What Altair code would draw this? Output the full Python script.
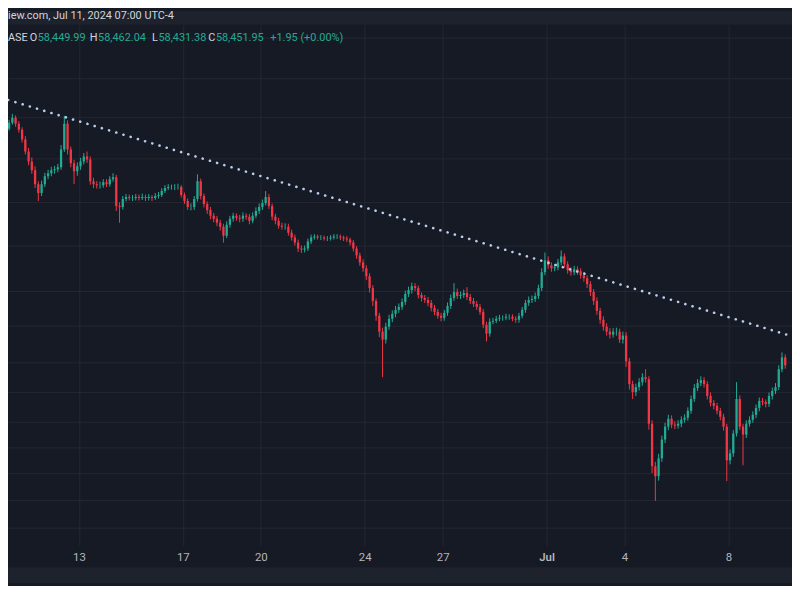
import altair as alt
import pandas as pd

# ---------------- data (3-hour candles from 2024-06-10 00:00 UTC) ----------------
FIRST_OPEN = 69200
CLOSE = [
    69300, 69420, 69660, 69860, 69620, 69380, 68980, 68500,
    68100, 67740, 67180, 66820, 67180, 67500, 67620, 67740,
    67780, 67860, 68580, 69620, 68580, 68020, 67700, 67900,
    68100, 68300, 68180, 67300, 67180, 67140, 67140, 67260,
    67180, 67380, 67460, 66300, 66260, 66580, 66660, 66620,
    66620, 66660, 66620, 66660, 66620, 66660, 66620, 66700,
    66740, 66900, 67020, 67060, 67060, 67060, 67060, 66740,
    66500, 66260, 66260, 66580, 67300, 66700, 66380, 66140,
    65900, 65780, 65620, 65460, 65100, 65540, 65780, 65900,
    65820, 65780, 65900, 65860, 65700, 65900, 66100, 66260,
    66420, 66660, 66300, 65860, 65700, 65500, 65460, 65460,
    65220, 65020, 64820, 64580, 64540, 64580, 64860, 65020,
    65060, 65020, 65020, 64980, 64980, 65020, 65060, 65060,
    65020, 64980, 64940, 64820, 64580, 64300, 64020, 63780,
    63460, 62980, 62460, 61860, 61220, 60900, 61420, 61740,
    61940, 62100, 62220, 62420, 62740, 62900, 63060, 62980,
    62700, 62580, 62500, 62380, 62180, 62020, 61860, 61780,
    61980, 62260, 62580, 62820, 62660, 62700, 62780, 62620,
    62460, 62340, 62220, 62020, 61500, 61140, 61620, 61660,
    61740, 61780, 61780, 61820, 61820, 61740, 61700, 61860,
    62100, 62380, 62500, 62540, 62660, 62980, 63620, 64100,
    63900, 63780, 63820, 64020, 64260, 63940, 63700, 63620,
    63740, 63660, 63500, 63380, 63140, 62820, 62460, 62060,
    61700, 61420, 61220, 61100, 61220, 61220, 60900, 61060,
    60020, 59100, 58780, 58980, 59180, 59380, 59300, 57500,
    55780, 55380, 56100, 56860, 57380, 57700, 57460, 57420,
    57500, 57660, 57740, 58020, 58500, 58940, 59140, 59260,
    59100, 58620, 58340, 58220, 58020, 57780, 57380, 56020,
    56300, 57100, 58500, 57380, 57060, 57500, 57660, 57860,
    58140, 58420, 58380, 58300, 58620, 58820, 58980, 59700,
    60180, 59860,
]
HIGH = [
    69420, 69540, 69780, 70020, 69960, 69720, 69480, 69120,
    68640, 68260, 67900, 67300, 67320, 67640, 67760, 67880,
    67920, 68000, 68760, 69940, 69760, 68700, 68160, 68060,
    68240, 68440, 68500, 68300, 67440, 67300, 67280, 67380,
    67380, 67500, 67620, 67560, 66440, 66700, 66780, 66760,
    66740, 66780, 66760, 66800, 66760, 66780, 66740, 66820,
    66860, 67020, 67140, 67180, 67160, 67180, 67200, 67140,
    66840, 66600, 66400, 66700, 67580, 67400, 66800, 66480,
    66260, 66020, 65900, 65740, 65580, 65680, 65900, 66020,
    66000, 65940, 66040, 66000, 65980, 66040, 66240, 66400,
    66560, 66900, 66780, 66400, 65980, 65820, 65620, 65600,
    65580, 65340, 65140, 64940, 64700, 64700, 64980, 65140,
    65160, 65140, 65120, 65100, 65080, 65120, 65160, 65160,
    65140, 65100, 65080, 65020, 64920, 64680, 64420, 64140,
    63900, 63580, 63100, 62560, 61980, 61380, 61580, 61900,
    62080, 62260, 62360, 62560, 62880, 63040, 63200, 63180,
    63080, 62800, 62700, 62620, 62500, 62300, 62140, 61980,
    62100, 62400, 62720, 63180, 62960, 62840, 62920, 63020,
    62740, 62580, 62460, 62340, 62140, 61620, 61760, 61780,
    61860, 61900, 61880, 61940, 61920, 61920, 61840, 61980,
    62220, 62500, 62640, 62680, 62800, 63120, 63780, 64420,
    64260, 64020, 63960, 64160, 64500, 64380, 64060, 63820,
    63880, 63860, 63780, 63620, 63500, 63260, 62940, 62600,
    62180, 61840, 61560, 61360, 61360, 61380, 61340, 61220,
    61200, 60160, 59240, 59120, 59340, 59540, 59700, 59420,
    57640, 55960, 56280, 57020, 57540, 57860, 57840, 57600,
    57640, 57800, 57880, 58160, 58640, 59100, 59300, 59420,
    59380, 59220, 58760, 58460, 58340, 58140, 57900, 57500,
    56460, 57240, 59180, 58640, 57500, 57640, 57800, 58000,
    58280, 58560, 58540, 58480, 58760, 58960, 59140, 59860,
    60380, 60300,
]
LOW = [
    69100, 69220, 69340, 69580, 69500, 69260, 68860, 68380,
    67940, 67600, 67020, 66500, 66700, 67060, 67380, 67500,
    67600, 67660, 67760, 68480, 68380, 67860, 67180, 67520,
    67760, 67980, 68040, 67160, 67020, 67000, 67000, 67040,
    67060, 67080, 67280, 66100, 65620, 66160, 66480, 66520,
    66500, 66520, 66520, 66540, 66500, 66520, 66500, 66540,
    66600, 66660, 66820, 66940, 66960, 66940, 66960, 66640,
    66380, 66140, 66120, 66140, 66480, 66560, 66240, 65980,
    65760, 65640, 65480, 65300, 64820, 65000, 65420, 65660,
    65700, 65640, 65660, 65740, 65560, 65600, 65800, 65980,
    66140, 66320, 66180, 65720, 65560, 65380, 65340, 65340,
    65100, 64900, 64700, 64440, 64400, 64420, 64480, 64760,
    64940, 64940, 64920, 64900, 64880, 64900, 64940, 64960,
    64920, 64880, 64840, 64700, 64460, 64160, 63880, 63640,
    63300, 62800, 62260, 61660, 61000, 59380, 60740, 61300,
    61600, 61800, 61980, 62100, 62300, 62620, 62760, 62860,
    62560, 62440, 62380, 62240, 62040, 61880, 61740, 61640,
    61660, 61860, 62140, 62460, 62540, 62540, 62580, 62500,
    62340, 62220, 62100, 61900, 61360, 60820, 61020, 61520,
    61560, 61640, 61660, 61680, 61700, 61640, 61580, 61580,
    61760, 61980, 62260, 62380, 62420, 62540, 62860, 63500,
    63760, 63640, 63660, 63700, 63900, 63800, 63560, 63480,
    63500, 63520, 63360, 63240, 62980, 62660, 62300, 61900,
    61540, 61260, 61060, 60940, 60980, 61060, 60760, 60740,
    59800, 58880, 58500, 58620, 58840, 59040, 59160, 57260,
    55500, 54380, 55200, 55960, 56720, 57240, 57320, 57280,
    57300, 57360, 57540, 57620, 57900, 58380, 58820, 59020,
    58960, 58480, 58200, 58080, 57880, 57640, 57220, 55180,
    55860, 56160, 56980, 57240, 55820, 56920, 57380, 57540,
    57720, 58000, 58240, 58160, 58180, 58480, 58700, 58860,
    59580, 59720,
]
TREND_TIMES = ["2024-06-10T00:00:00Z", "2024-07-11T00:00:00Z"]
TREND_PRICES = [70670, 60860]
GRID_LEVELS = [73100, 71460, 69900, 68220, 66460, 64700, 62860, 61460,
               59980, 58780, 57580, 56540, 55500, 54420, 53300]
TICK_DAYS = [(6, 13), (6, 17), (6, 20), (6, 24), (6, 27), (7, 1), (7, 4), (7, 8)]
PRICE_DOMAIN = [52780, 73620]
HEADER_TITLE = "iew.com, Jul 11, 2024 07:00 UTC-4"
OHLC_TEXTS = ["ASE", "O", "58,449.99", "H", "58,462.04", "L", "58,431.38",
              "C", "58,451.95", "+1.95 (+0.00%)"]
OHLC_KINDS = ["first", "label", "value", "label", "value", "label", "value",
              "label", "value", "value"]

# ---------------- layout / style ----------------
W, TOP, PLOT_H, BOTTOM = 792, 14, 521, 43
BG = "#161A25"
BAND = "#1E222D"
GRID = "#242733"
UP = "#22AB94"
DOWN = "#F23645"
TXT = "#D1D4DC"
# anchor x of each header piece (labels right-aligned, values left-aligned)
OHLC_X = [0, 29.5, 30, 90.5, 91, 151.5, 152, 209.5, 210, 265]
ALIGN = {"first": "left", "label": "right", "value": "left"}

n = len(CLOSE)
times = pd.date_range("2024-06-10 01:30", periods=n, freq="3h")
df = pd.DataFrame({
    "t": times.strftime("%Y-%m-%dT%H:%M:%SZ"),
    "open": [FIRST_OPEN] + CLOSE[:-1],
    "close": CLOSE,
    "high": HIGH,
    "low": LOW,
})
trend = pd.DataFrame({"t": TREND_TIMES, "price": TREND_PRICES})

x_scale = alt.Scale(type="utc", domain=[
    alt.DateTime(year=2024, month=6, date=10, hours=11, minutes=3, utc=True),
    alt.DateTime(year=2024, month=7, date=10, hours=6, minutes=10, utc=True)])
y_scale = alt.Scale(domain=PRICE_DOMAIN, nice=False, zero=False)

x_axis = alt.Axis(
    values=[alt.DateTime(year=2024, month=m, date=d, utc=True) for m, d in TICK_DAYS],
    labelExpr="utcdate(datum.value) == 1 ? utcFormat(datum.value, '%b') : utcFormat(datum.value, '%-d')",
    grid=True, gridColor=GRID, gridWidth=1, domain=False,
    ticks=True, tickColor=GRID, tickSize=5,
    labelColor="#B2B5BE", labelFont="Roboto", labelFontSize=11.5, labelPadding=6,
    labelFontWeight={"condition": {"test": "utcdate(datum.value) == 1", "value": 600}, "value": 400},
    labelFlush=False, labelOverlap=False, title=None)
y_axis = alt.Axis(values=GRID_LEVELS, labels=False, ticks=False, domain=False,
                  grid=True, gridColor=GRID, gridWidth=1, title=None)

one = pd.DataFrame({"a": [0]})
top_band = alt.Chart(one).mark_rect(color=BAND).encode(
    x=alt.value(0), x2=alt.value(W), y=alt.value(-TOP), y2=alt.value(0))
bottom_band = alt.Chart(one).mark_rect(color=BAND).encode(
    x=alt.value(0), x2=alt.value(W), y=alt.value(548), y2=alt.value(PLOT_H + BOTTOM))

color = alt.condition("datum.open <= datum.close", alt.value(UP), alt.value(DOWN))
base = alt.Chart(df)
wicks = base.mark_rule(strokeWidth=1, clip=True).encode(
    x=alt.X("t:T", scale=x_scale, axis=x_axis),
    y=alt.Y("low:Q", scale=y_scale, axis=y_axis),
    y2="high:Q",
    color=color)
bodies = base.mark_bar(size=2.3, clip=True).encode(
    x=alt.X("t:T", scale=x_scale, axis=x_axis),
    y=alt.Y("open:Q", scale=y_scale, axis=y_axis),
    y2="close:Q",
    color=color)
trendline = alt.Chart(trend).mark_line(
    color="#B9CDEE", strokeWidth=2.6, strokeDash=[0.1, 7.5], strokeCap="round", clip=True
).encode(
    x=alt.X("t:T", scale=x_scale, axis=x_axis),
    y=alt.Y("price:Q", scale=y_scale, axis=y_axis))

title_text = alt.Chart(pd.DataFrame({"s": [HEADER_TITLE]})).mark_text(
    align="left", baseline="middle", font="Roboto", fontSize=11, color=TXT
).encode(x=alt.value(0), y=alt.value(-8.5), text="s:N")

ohlc_layers = []
for s, kind, px in zip(OHLC_TEXTS, OHLC_KINDS, OHLC_X):
    ohlc_layers.append(
        alt.Chart(pd.DataFrame({"s": [s]})).mark_text(
            align=ALIGN[kind], baseline="middle",
            font="Roboto", fontSize=11, color=UP if kind == "value" else TXT
        ).encode(x=alt.value(px), y=alt.value(13), text="s:N"))

chart = alt.layer(top_band, bottom_band, wicks, bodies, trendline, title_text, *ohlc_layers).properties(
    width=W, height=PLOT_H,
    autosize=alt.AutoSizeParams(type="none"),
    padding={"left": 0, "top": TOP, "right": 0, "bottom": BOTTOM},
    background=BG,
).configure_view(stroke=None)

chart.save("out.html", embed_options={"renderer": "svg", "actions": False})
